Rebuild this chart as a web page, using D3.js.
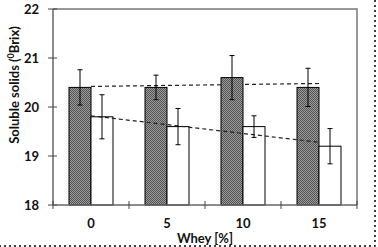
<!DOCTYPE html>
<html><head><meta charset="utf-8">
<script src="https://cdn.jsdelivr.net/npm/d3@7"></script>
<style>body{margin:0;background:#fff}svg{display:block}text{font-family:Lato,"Open Sans",sans-serif;font-weight:bold}</style>
</head><body>
<svg id="c" width="378" height="247"></svg>
<script>
const categories = ["0","5","10","15"];
const darkValues = [20.4, 20.4, 20.6, 20.4];
const darkErrors = [0.36, 0.25, 0.45, 0.39];
const whiteValues = [19.8, 19.6, 19.6, 19.2];
const whiteErrors = [0.45, 0.37, 0.22, 0.36];
const yTicks = [18, 19, 20, 21, 22];

const svg = d3.select("#c");
const L = 53, R = 357, T = 9, B = 205;

const defs = svg.append("defs");
const pat = defs.append("pattern").attr("id","hatch").attr("width",2).attr("height",2).attr("patternUnits","userSpaceOnUse");
pat.append("rect").attr("width",2).attr("height",2).attr("fill","#9a9a9a");
pat.append("rect").attr("width",1).attr("height",1).attr("fill","#555");
pat.append("rect").attr("x",1).attr("y",1).attr("width",1).attr("height",1).attr("fill","#555");

const x = d3.scaleBand().domain(categories).range([L, R]).paddingInner(0).paddingOuter(0);
const sub = d3.scaleBand().domain(["d","w"]).range([0, 44]);
const y = d3.scaleLinear().domain([18, 22]).range([B, T]);
const off = (x.bandwidth() - 44) / 2;

// outer dotted border
svg.append("path").attr("d", `M375,0 V246 H0`).attr("fill","none").attr("stroke","#000").attr("stroke-width",1.5).attr("stroke-dasharray","2,3");

// plot top/right border
svg.append("path").attr("d", `M${L},${T} H${R} V${B}`).attr("fill","none").attr("stroke","#777").attr("stroke-width",1.5);

// trend lines
function trend(vals) {
  const n = vals.length, xs = d3.range(n);
  const mx = d3.mean(xs), my = d3.mean(vals);
  const s = d3.sum(xs, i => (i - mx) * (vals[i] - my)) / d3.sum(xs, i => (i - mx) ** 2);
  return [[0, my - s * mx], [n - 1, my + s * (n - 1 - mx)]];
}
const cx = i => x(categories[i]) + x.bandwidth() / 2;
const line = d3.line().x(d => cx(d[0])).y(d => y(d[1]));
svg.append("path").attr("d", line(trend(darkValues))).attr("fill","none").attr("stroke","#222").attr("stroke-width",1.2).attr("stroke-dasharray","4,3");

// bars
const g = svg.append("g");
categories.forEach((c, i) => {
  const x0 = x(c) + off;
  g.append("rect").attr("x", x0 + sub("d")).attr("y", y(darkValues[i])).attr("width", sub.bandwidth()).attr("height", y(18) - y(darkValues[i]))
    .attr("fill","url(#hatch)").attr("stroke","#000").attr("stroke-width",1);
  g.append("rect").attr("x", x0 + sub("w")).attr("y", y(whiteValues[i])).attr("width", sub.bandwidth()).attr("height", y(18) - y(whiteValues[i]))
    .attr("fill","#fff").attr("stroke","#000").attr("stroke-width",1);
});

svg.append("path").attr("d", line(trend(whiteValues))).attr("fill","none").attr("stroke","#222").attr("stroke-width",1.2).attr("stroke-dasharray","4,3");

// error bars
function errBars(vals, errs, key) {
  categories.forEach((c, i) => {
    const xm = x(c) + off + sub(key) + sub.bandwidth() / 2;
    const e = svg.append("g").attr("stroke","#000").attr("stroke-width",1);
    e.append("line").attr("x1", xm).attr("x2", xm).attr("y1", y(vals[i] + errs[i])).attr("y2", y(vals[i] - errs[i]));
    e.append("line").attr("x1", xm - 2.5).attr("x2", xm + 2.5).attr("y1", y(vals[i] + errs[i])).attr("y2", y(vals[i] + errs[i]));
    e.append("line").attr("x1", xm - 2.5).attr("x2", xm + 2.5).attr("y1", y(vals[i] - errs[i])).attr("y2", y(vals[i] - errs[i]));
  });
}
errBars(darkValues, darkErrors, "d");
errBars(whiteValues, whiteErrors, "w");

// axes
const ya = svg.append("g");
ya.append("line").attr("x1", L).attr("x2", L).attr("y1", T).attr("y2", B).attr("stroke","#666").attr("stroke-width",1.5);
yTicks.forEach(t => {
  ya.append("line").attr("x1", L - 5).attr("x2", L + 4).attr("y1", y(t)).attr("y2", y(t)).attr("stroke","#444").attr("stroke-width",1);
  ya.append("text").attr("x", 39).attr("y", y(t)).attr("dy","0.35em").attr("text-anchor","end").attr("font-size",13).attr("fill","#111").text(t);
});
const xa = svg.append("g");
xa.append("line").attr("x1", L).attr("x2", R).attr("y1", B).attr("y2", B).attr("stroke","#666").attr("stroke-width",1.5);
d3.range(categories.length + 1).forEach(i => {
  const xx = L + i * x.bandwidth();
  xa.append("line").attr("x1", xx).attr("x2", xx).attr("y1", B - 4).attr("y2", B + 4).attr("stroke","#444").attr("stroke-width",1);
});
categories.forEach(c => {
  xa.append("text").attr("x", x(c) + x.bandwidth() / 2).attr("y", 223).attr("dy","0.35em").attr("text-anchor","middle").attr("font-size",13).attr("fill","#111").text(c);
});
svg.append("text").attr("x", (L + R) / 2).attr("y", 238).attr("dy","0.35em").attr("text-anchor","middle").attr("font-size",13).attr("fill","#111").text("Whey [%]");

const yt = svg.append("text").attr("transform", "translate(14,85) rotate(-90)").attr("text-anchor","middle").attr("dy","0.35em").attr("font-size",13).attr("fill","#111");
yt.append("tspan").text("Soluble solids (");
yt.append("tspan").attr("font-size",9).attr("dy","-5").text("0");
yt.append("tspan").attr("dy","5").text("Brix)");
</script>
</body></html>
